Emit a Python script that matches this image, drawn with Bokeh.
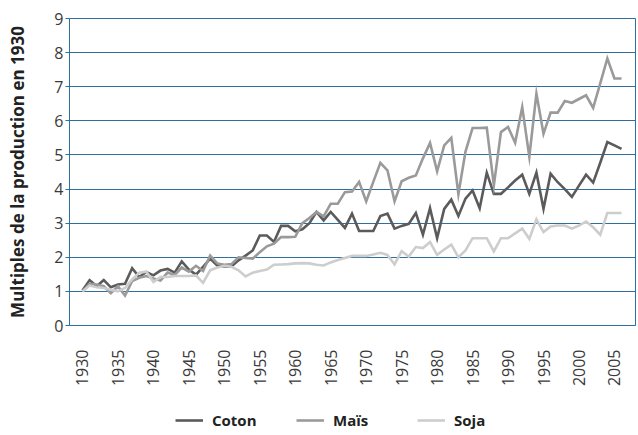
from bokeh.plotting import figure
from bokeh.models import Range1d, FixedTicker, Legend, LegendItem
from bokeh.layouts import column
from bokeh.embed import file_html
from bokeh.resources import INLINE
import math

years = list(range(1930, 2007))

coton = [1.03, 1.33, 1.15, 1.33, 1.12, 1.20, 1.22, 1.68, 1.42, 1.57,
         1.47, 1.61, 1.66, 1.55, 1.88, 1.64, 1.49, 1.72, 1.96, 1.76,
         1.73, 1.73, 1.91, 2.05, 2.20, 2.64, 2.64, 2.45, 2.92, 2.92,
         2.76, 2.82, 3.00, 3.33, 3.08, 3.33, 3.10, 2.86, 3.28, 2.77,
         2.77, 2.77, 3.21, 3.28, 2.84, 2.92, 2.98, 3.30, 2.66, 3.44,
         2.56, 3.42, 3.69, 3.21, 3.72, 3.96, 3.44, 4.48, 3.86, 3.86,
         4.05, 4.25, 4.42, 3.86, 4.48, 3.42, 4.45, 4.20, 4.00, 3.77,
         4.10, 4.42, 4.19, 4.77, 5.38, 5.28, 5.18]

mais = [1.00, 1.22, 1.20, 1.15, 0.95, 1.15, 0.88, 1.30, 1.40, 1.45,
        1.38, 1.32, 1.55, 1.48, 1.70, 1.58, 1.75, 1.60, 2.05, 1.82,
        1.78, 1.80, 2.00, 1.98, 1.96, 2.15, 2.32, 2.40, 2.59, 2.59,
        2.60, 3.00, 3.15, 3.33, 3.20, 3.57, 3.57, 3.91, 3.93, 4.21,
        3.64, 4.21, 4.77, 4.55, 3.64, 4.23, 4.33, 4.40, 4.90, 5.35,
        4.52, 5.28, 5.50, 3.85, 5.10, 5.79, 5.79, 5.80, 4.11, 5.67,
        5.82, 5.36, 6.40, 4.95, 6.80, 5.62, 6.24, 6.24, 6.58, 6.53,
        6.64, 6.75, 6.38, 7.10, 7.83, 7.24, 7.24]

soja = [1.00, 1.17, 1.12, 1.10, 1.05, 1.00, 1.10, 1.35, 1.55, 1.58,
        1.28, 1.42, 1.42, 1.45, 1.45, 1.45, 1.47, 1.25, 1.62, 1.70,
        1.75, 1.72, 1.62, 1.44, 1.55, 1.60, 1.64, 1.78, 1.79, 1.80,
        1.82, 1.83, 1.82, 1.78, 1.76, 1.85, 1.92, 1.98, 2.04, 2.04,
        2.04, 2.08, 2.13, 2.07, 1.79, 2.18, 2.02, 2.30, 2.27, 2.45,
        2.07, 2.23, 2.37, 2.00, 2.20, 2.56, 2.56, 2.56, 2.17, 2.56,
        2.56, 2.70, 2.84, 2.54, 3.11, 2.74, 2.90, 2.93, 2.93, 2.84,
        2.93, 3.05, 2.88, 2.66, 3.30, 3.30, 3.30]

x_ticks = list(range(1930, 2006, 5))
y_ticks = list(range(0, 10))

series_names = ["Coton", "Maïs", "Soja"]
series_colors = ["#5b5b5b", "#9a9a9a", "#cdcdcd"]

BLUE = "#2f6f9e"
FONT = "Open Sans"

p = figure(width=637, height=391, output_backend="svg", toolbar_location=None,
           x_range=Range1d(1928.17, 2007.97), y_range=Range1d(0, 9),
           min_border_left=69, min_border_right=2, min_border_top=18,
           min_border_bottom=66)

p.outline_line_color = BLUE
p.outline_line_width = 1
p.background_fill_color = "white"
p.border_fill_color = "white"

p.xgrid.grid_line_color = None
p.ygrid.grid_line_color = BLUE
p.ygrid.grid_line_width = 1
p.ygrid.ticker = FixedTicker(ticks=y_ticks)

p.yaxis.ticker = FixedTicker(ticks=y_ticks)
p.yaxis.axis_line_color = BLUE
p.yaxis.major_tick_line_color = BLUE
p.yaxis.major_tick_out = 4
p.yaxis.major_tick_in = 0
p.yaxis.minor_tick_line_color = None
p.yaxis.major_label_text_font = FONT
p.yaxis.major_label_text_font_size = "16px"
p.yaxis.major_label_text_color = "#3a3a3a"
p.yaxis.major_label_standoff = 2
p.yaxis.axis_label = "Multiples de la production en 1930"
p.yaxis.axis_label_text_font = FONT
p.yaxis.axis_label_text_font_style = "bold"
p.yaxis.axis_label_text_font_size = "17px"
p.yaxis.axis_label_text_color = "#222222"
p.yaxis.axis_label_standoff = 22

p.xaxis.ticker = FixedTicker(ticks=x_ticks)
p.xaxis.axis_line_color = BLUE
p.xaxis.major_tick_line_color = None
p.xaxis.minor_tick_line_color = None
p.xaxis.major_label_orientation = math.pi / 2
p.xaxis.major_label_text_font = FONT
p.xaxis.major_label_text_font_size = "16px"
p.xaxis.major_label_text_color = "#3a3a3a"
p.xaxis.major_label_standoff = 18

for name, col, vals in zip(series_names, series_colors, [coton, mais, soja]):
    p.line(years, vals, line_color=col, line_width=2.6, line_join="miter")

# legend strip under the chart (its lines lie outside the visible range)
lg = figure(width=637, height=44, output_backend="svg", toolbar_location=None,
            x_range=Range1d(0, 1), y_range=Range1d(0, 1),
            x_axis_location=None, y_axis_location=None,
            min_border_left=0, min_border_right=0, min_border_top=0, min_border_bottom=0)
lg.outline_line_color = None
lg.xgrid.grid_line_color = None
lg.ygrid.grid_line_color = None
legend_renderers = []
for col in series_colors:
    legend_renderers.append(lg.line([-5, -4], [-5, -5], line_color=col, line_width=2.6))

legend = Legend(items=[LegendItem(label=n, renderers=[r]) for n, r in zip(series_names, legend_renderers)],
                location=(106, 5), orientation="horizontal")
legend.border_line_color = None
legend.background_fill_alpha = 0
legend.padding = 0
legend.margin = 0
legend.spacing = 14
legend.glyph_width = 28
legend.glyph_height = 16
legend.label_width = 70
legend.label_standoff = 9
legend.label_text_font = FONT
legend.label_text_font_style = "bold"
legend.label_text_font_size = "15px"
legend.label_text_color = "#222222"
lg.add_layout(legend, "center")

layout = column(p, lg, spacing=0)
open("out.html", "w").write(file_html(layout, INLINE))
